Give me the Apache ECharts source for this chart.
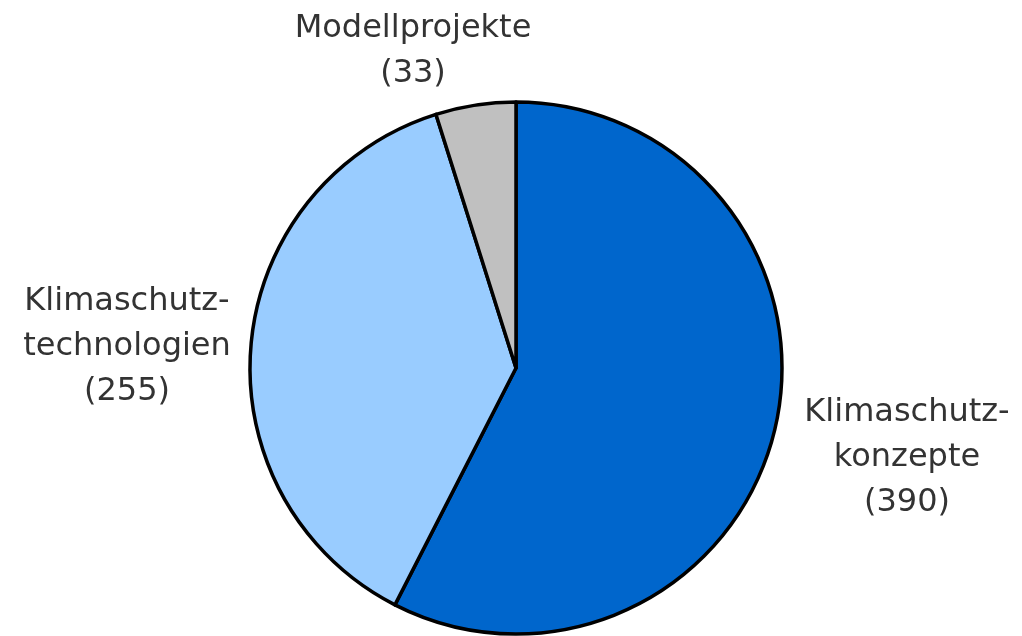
<!DOCTYPE html>
<html>
<head>
<meta charset="utf-8">
<script src="https://cdn.jsdelivr.net/npm/echarts@6/dist/echarts.min.js"></script>
<style>
  html, body { margin: 0; padding: 0; background: #fff; }
  #chart { width: 1022px; height: 636px; }
</style>
</head>
<body>
<div id="chart"></div>
<script>
// Förderprojekte nach Bereich
const names = ['Klimaschutz-\nkonzepte', 'Klimaschutz-\ntechnologien', 'Modellprojekte'];
const values = [390, 255, 33];
const colors = ['#0066cc', '#99ccff', '#c0c0c0'];

// label centres (px), one per slice
const labelPos = [[907, 458], [127, 347], [413, 51]];

let chart = echarts.init(document.getElementById('chart'));
chart.setOption({
    animation: false,
    series: [{
        type: 'pie',
        center: [516, 368],
        radius: 266,
        startAngle: 90,
        clockwise: true,
        data: names.map(function (n, i) {
            return { name: n, value: values[i], itemStyle: { color: colors[i] } };
        }),
        itemStyle: { borderColor: '#000', borderWidth: 3.5 },
        label: {
            show: true,
            position: 'outside',
            formatter: '{b}\n({c})',
            fontFamily: 'DejaVu Sans',
            fontSize: 32,
            lineHeight: 45,
            color: '#333',
            align: 'center',
            overflow: 'none'
        },
        labelLine: { show: false },
        labelLayout: function (p) {
            let pos = labelPos[p.dataIndex];
            return { x: pos[0], y: pos[1], align: 'center', verticalAlign: 'middle' };
        },
        emphasis: { disabled: true }
    }]
});
</script>
</body>
</html>
